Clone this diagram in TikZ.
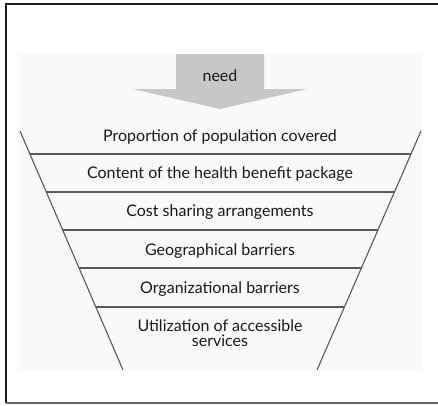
\documentclass[tikz,border=0pt]{standalone}
\usepackage{fontspec}
\setmainfont{Lato}
\usetikzlibrary{calc}
\begin{document}
\begin{tikzpicture}[x=1pt,y=-1pt,
  lbl/.style={font=\fontsize{16}{15.5}\selectfont, text=black!90, inner sep=0pt, align=center},
  funline/.style={draw=black!65, line width=1.1pt},
  frame/.style={line width=2.2pt, draw=black!90}]
\useasboundingbox (0,0) rectangle (438,405);
% faint background
\fill[black!2.5] (20,54) rectangle (422,370);
% frame
\draw[frame] (6,403) -- (6,4) -- (440,4);
\draw[draw=black!60, line width=1.2pt] (6,403) -- (440,403);
% arrow
\fill[black!22] (176,54) -- (264,54) -- (264,89) -- (307,89) -- (220,109) -- (133,89) -- (176,89) -- cycle;
\node[lbl] (need) at (220,76) {need};
% funnel
\coordinate (TL) at (20,131);
\coordinate (BL) at (123,370);
\coordinate (TR) at (421,131);
\coordinate (BR) at (317,370);
\draw[funline] (TL) -- (BL);
\draw[funline] (TR) -- (BR);
\foreach \t [count=\i] in {0.0962,0.2552,0.4142,0.5732,0.7364} {
  \coordinate (L\i) at ($(TL)!\t!(BL)$);
  \coordinate (R\i) at ($(TR)!\t!(BR)$);
  \draw[funline] (L\i) -- (R\i);
}
\node[lbl] (t1) at (220,137) {Proportion of population covered};
\node[lbl] (t2) at (220,174) {Content of the health benefit package};
\node[lbl] (t3) at (220,212) {Cost sharing arrangements};
\node[lbl] (t4) at (220,251) {Geographical barriers};
\node[lbl] (t5) at (220,289) {Organizational barriers};
\node[lbl] (t6) at (220,333) {Utilization of accessible\\services};
\end{tikzpicture}
\end{document}
